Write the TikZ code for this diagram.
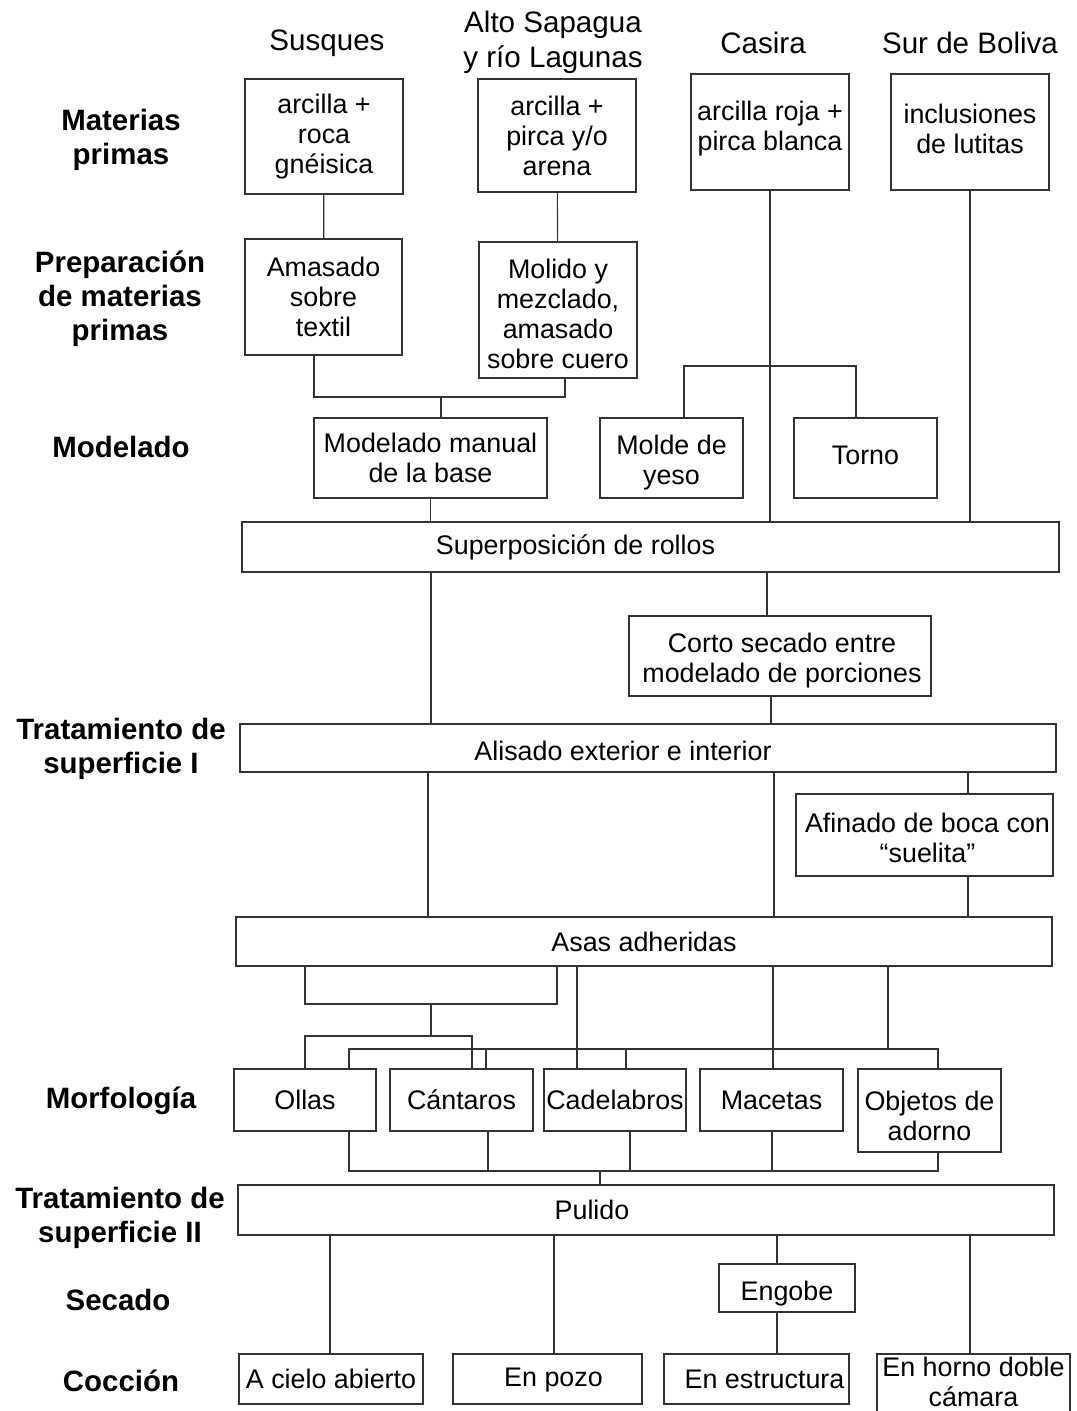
\documentclass[tikz,border=0pt]{standalone}
\usepackage{fontspec}
\setmainfont{Liberation Sans}
\definecolor{linea}{HTML}{333333}
\tikzset{
 caja/.style={draw=linea,line width=0.8pt,align=center,inner sep=0pt,
  font=\fontsize{18.8}{21}\selectfont},
 dims/.style 2 args={minimum width=#1*0.7pt,minimum height=#2*0.7pt},
 etapa/.style={align=center,font=\fontsize{20.6}{23.8}\selectfont\bfseries},
 sitio/.style={align=center,font=\fontsize{20.7}{24.5}\selectfont},
 rotulo/.style 2 args={align=center,inner sep=0pt,font=\fontsize{18.8}{21}\selectfont,
  xshift=#1*0.7pt,yshift=-#2*0.7pt},
 con/.style={draw=linea,line width=0.8pt}}

\begin{document}
\begin{tikzpicture}[x=0.7pt,y=-0.7pt]
\useasboundingbox (0,0) rectangle (1077,1411);
% etapas
\node[etapa] (lMat) at (121,140) {Materias\\primas};
\node[etapa] (lPre) at (120,299) {Preparación\\de materias\\primas};
\node[etapa] (lMod) at (121,447) {Modelado};
\node[etapa] (lTs1) at (121,749) {Tratamiento de\\superficie I};
\node[etapa] (lMor) at (121,1101) {Morfología};
\node[etapa] (lTs2) at (120,1218) {Tratamiento de\\superficie II};
\node[etapa] (lSec) at (118,1300) {Secado};
\node[etapa] (lCoc) at (121,1381) {Cocción};
% sitios
\node[sitio] (hSus) at (327,43) {Susques};
\node[sitio] (hAlt) at (553,42) {Alto Sapagua\\y río Lagunas};
\node[sitio] (hCas) at (763,43) {Casira};
\node[sitio] (hSur) at (970,43) {Sur de Boliva};
% materias primas y preparacion
\node[caja,dims={158}{115}] (mpA) at (324,136.5) {arcilla +\\roca\\gnéisica};
\node[caja,dims={158}{113}] (mpB) at (557,135.5) {arcilla +\\pirca y/o\\arena};
\node[caja,dims={158}{116},label={[rotulo={0}{-3}]center:{arcilla roja +\\pirca blanca}}] (mpC) at (770,132) {};
\node[caja,dims={158}{116},label={[rotulo={0}{-3}]center:{inclusiones\\de lutitas}}] (mpD) at (970,132) {};
\node[caja,dims={157}{116}] (prA) at (323.5,297) {Amasado\\sobre\\textil};
\node[caja,dims={158}{136},label={[rotulo={0}{4}]center:{Molido y\\mezclado,\\amasado\\sobre cuero}}] (prB) at (558,310) {};
% modelado
\node[caja,dims={233}{80}] (moA) at (430.5,458) {Modelado manual\\de la base};
\node[caja,dims={143}{80},label={[rotulo={0}{5}]center:{Molde de\\yeso}}] (moB) at (671.5,458) {};
\node[caja,dims={143}{80},label={[rotulo={0}{-3}]center:Torno}] (moC) at (865.5,458) {};
\node[caja,dims={817}{50},label={[rotulo={-75}{0}]center:Superposición de rollos}] (sup) at (650.5,547) {};
\node[caja,dims={302}{80},label={[rotulo={2}{5}]center:{Corto secado entre\\modelado de porciones}}] (corto) at (780,656) {};
% tratamiento I
\node[caja,dims={816}{48},label={[rotulo={-25}{3}]center:Alisado exterior e interior}] (alis) at (648,748) {};
\node[caja,dims={257}{82},label={[rotulo={3}{3}]center:{Afinado de boca con\\“suelita”}}] (afin) at (924.5,835) {};
\node[caja,dims={816}{49}] (asas) at (644,941.5) {Asas adheridas};
% morfologia
\node[caja,dims={142}{62}] (ollas) at (305,1100) {Ollas};
\node[caja,dims={143}{62}] (cant) at (461.5,1100) {Cántaros};
\node[caja,dims={142}{62}] (cadel) at (615,1100) {Cadelabros};
\node[caja,dims={143}{62}] (mac) at (771.5,1100) {Macetas};
\node[caja,dims={143}{83},label={[rotulo={0}{5}]center:{Objetos de\\adorno}}] (obj) at (929.5,1110.5) {};
% tratamiento II, secado, coccion
\node[caja,dims={816}{50},label={[rotulo={-54}{0}]center:Pulido}] (pul) at (646,1210) {};
\node[caja,dims={136}{48},label={[rotulo={0}{6}]center:Engobe}] (engobe) at (787,1288) {};
\node[caja,dims={184}{50}] (cA) at (331,1379) {A cielo abierto};
\node[caja,dims={189}{50},label={[rotulo={6}{1}]center:En pozo}] (cB) at (547.5,1379) {};
\node[caja,dims={185}{50},label={[rotulo={8}{0}]center:En estructura}] (cC) at (756.5,1379) {};
\node[caja,dims={193}{60},label={[rotulo={0}{-2}]center:{En horno doble\\cámara}}] (cD) at (973.5,1384) {};
% uniones
\coordinate (jPr) at (441,397);
\coordinate (jMo) at (770,366);
\coordinate (jAs) at (431,1004);
\coordinate (jOc) at (431,1036);
\coordinate (jMf) at (888,1049);
\coordinate (jPu) at (600,1171);
\draw[con] (mpA) -- (prA);
\draw[con] (mpB) -- (prB);
\draw[con] (mpC.south) -- (mpC.south |- sup.north);
\draw[con] (mpD.south) -- (mpD.south |- sup.north);
\draw[con] (314,0 |- prA.south) |- (jPr) -| (565,0 |- prB.south);
\draw[con] (jPr) -- (jPr |- moA.north);
\draw[con] (684,0 |- moB.north) |- (jMo) -| (856,0 |- moC.north);
\draw[con] (moA.south) -- (moA.south |- sup.north);
\draw[con] (431,0 |- sup.south) -- (431,0 |- alis.north);
\draw[con] (767,0 |- sup.south) -- (767,0 |- corto.north);
\draw[con] (771,0 |- corto.south) -- (771,0 |- alis.north);
\draw[con] (428,0 |- alis.south) -- (428,0 |- asas.north);
\draw[con] (774,0 |- alis.south) -- (774,0 |- asas.north);
\draw[con] (968,0 |- alis.south) -- (968,0 |- afin.north);
\draw[con] (968,0 |- afin.south) -- (968,0 |- asas.north);
\draw[con] (305,0 |- asas.south) |- (jAs) -| (557,0 |- asas.south);
\draw[con] (jAs) -- (jOc);
\draw[con] (ollas.north) |- (jOc) -| (472,0 |- cant.north);
\draw[con] (888,0 |- asas.south) -- (jMf);
\draw[con] (349,0 |- ollas.north) |- (jMf) -| (938,0 |- obj.north);
\draw[con] (486,0 |- jMf) -- (486,0 |- cant.north);
\draw[con] (626,0 |- jMf) -- (626,0 |- cadel.north);
\draw[con] (577,0 |- asas.south) -- (577,0 |- cadel.north);
\draw[con] (773,0 |- asas.south) -- (773,0 |- mac.north);
\draw[con] (349,0 |- ollas.south) |- (jPu) -| (938,0 |- obj.south);
\draw[con] (488,0 |- cant.south) -- (488,0 |- jPu);
\draw[con] (630,0 |- cadel.south) -- (630,0 |- jPu);
\draw[con] (772,0 |- mac.south) -- (772,0 |- jPu);
\draw[con] (jPu) -- (jPu |- pul.north);
\draw[con] (330,0 |- pul.south) -- (330,0 |- cA.north);
\draw[con] (554,0 |- pul.south) -- (554,0 |- cB.north);
\draw[con] (777,0 |- pul.south) -- (777,0 |- engobe.north);
\draw[con] (777,0 |- engobe.south) -- (777,0 |- cC.north);
\draw[con] (970,0 |- pul.south) -- (970,0 |- cD.north);
\end{tikzpicture}
\end{document}
